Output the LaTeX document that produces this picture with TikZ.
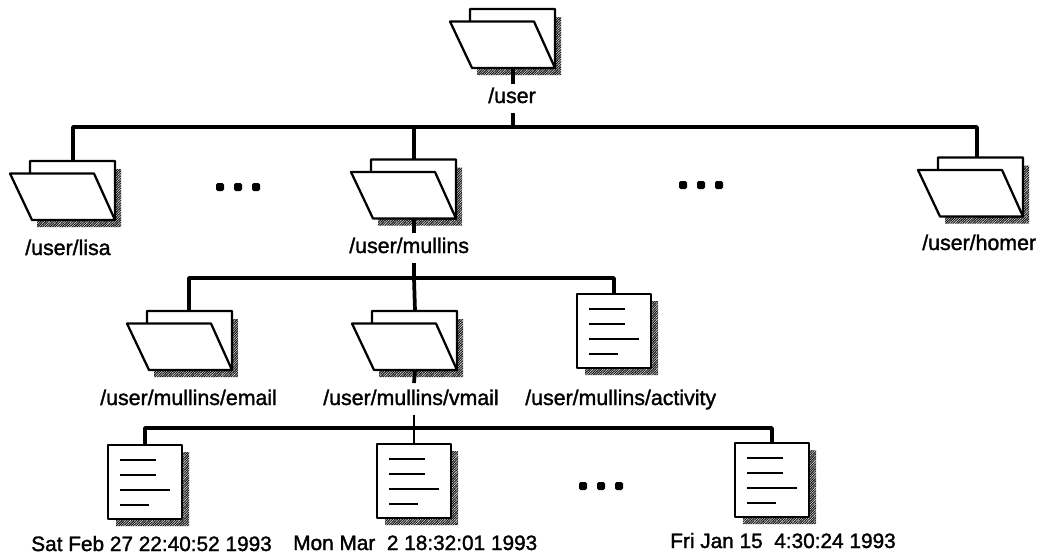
\documentclass[tikz,border=0pt]{standalone}
\usepackage{fontspec}
\setmainfont[FakeBold=1.5]{Liberation Sans}
\usetikzlibrary{patterns.meta}
\tikzset{
  x=0.75pt,y=-0.75pt,
  shade pat/.style={pattern={Lines[angle=45,distance=1.3pt,line width=0.85pt]},pattern color=black!90},
  icon line/.style={line width=1.7pt,line join=round,line cap=round},
  bus/.style={line width=2.8pt,line join=round},
  thin bus/.style={line width=2pt},
  label/.style={font=\fontsize{16pt}{18pt}\selectfont,inner sep=0pt,anchor=base west},
  datelabel/.style={label,font=\fontsize{15.6pt}{18pt}\selectfont},
  dotmark/.style={fill=black,minimum size=6pt,inner sep=0pt,draw=none,rounded corners=1.2pt},
  folder/.pic={
    \fill[shade pat] (106,8)--(111,8)--(111,66)--(27,66)--(27,59)--(106,59)--cycle;
    \draw[icon line,fill=white] (20,12.5)--(20,0)--(105,0)--(105,59)--(60,59)--cycle;
    \draw[icon line,fill=white] (0,12.5)--(84,12.5)--(105,59)--(22,59)--cycle;
    \coordinate (-top) at (63,0);
    \coordinate (-bot) at (63,59);
  },
  docicon/.pic={
    \fill[shade pat] (75,7)--(81,7)--(81,81)--(8,81)--(8,74)--(75,74)--cycle;
    \draw[icon line,fill=white] (0,0) rectangle (74,74);
    \draw[line width=1.6pt] (12,15)--(48,15) (12,30)--(48,30) (12,45)--(62,45) (12,60)--(41,60);
    \coordinate (-top) at (37,0);
    \coordinate (-bot) at (37,74);
  }
}
\begin{document}
\begin{tikzpicture}
\useasboundingbox (0,0) rectangle (1037,554);
% icons
\pic (user) at (450,9) {folder};
\pic (lisa) at (10,161) {folder};
\pic (mullins) at (351,159.5) {folder};
\pic (homer) at (918,157.5) {folder};
\pic (email) at (127,311) {folder};
\pic (vmail) at (352,311) {folder};
\pic (activity) at (577,294) {docicon};
\pic (sat) at (108,445) {docicon};
\pic (mon) at (377,444) {docicon};
\pic (fri) at (735,443) {docicon};
% labels
\node[label] (luser) at (488,103) {/user};
\node[label] (llisa) at (25,255) {/user/lisa};
\node[label] (lmullins) at (349,253) {/user/mullins};
\node[label] (lhomer) at (922,250) {/user/homer};
\node[label] (lemail) at (100,405) {/user/mullins/email};
\node[label] (lvmail) at (323,405) {/user/mullins/vmail};
\node[label] (lactivity) at (525,405) {/user/mullins/activity};
\node[datelabel] (lsat) at (31,551) {Sat Feb 27 22:40:52 1993};
\node[datelabel] (lmon) at (293,550) {Mon Mar\ \ 2 18:32:01 1993};
\node[datelabel] (lfri) at (670,548) {Fri Jan 15\ \ 4:30:24 1993};
% connectors
\coordinate (b0) at (513,127);
\coordinate (b1) at (414,278);
\coordinate (b2) at (414,428);
\coordinate (homerin) at ([xshift=-3pt]homer-top);
\coordinate (emailin) at ([xshift=-0.75pt]email-top);
\draw[bus] (user-bot) -- (513,84);
\draw[bus] (513,113) -- (b0);
\draw[bus] (lisa-top) |- (b0) -| (homerin);
\draw[bus] (b0 -| mullins-top) -- (mullins-top);
\draw[bus] (mullins-bot) -- (414,233);
\draw[bus] (414,263) -- (b1);
\draw[bus] (emailin) |- (b1) -| (activity-top);
\draw[bus] (b1) -- (vmail-top);
\draw[bus] (vmail-bot) -- (414,383);
\draw[thin bus] (414,415) -- (b2);
\draw[bus] (sat-top) |- (b2) -| (fri-top);
\draw[thin bus] (b2) -- (mon-top);
% ellipses
\foreach \n/\x/\y in {a/220/187,b/238/187,c/256/187,d/683/185,e/701/185,f/719/185,g/583/486,h/601/486,i/619/486}
  \node[dotmark] (\n) at (\x,\y) {};
\end{tikzpicture}
\end{document}
